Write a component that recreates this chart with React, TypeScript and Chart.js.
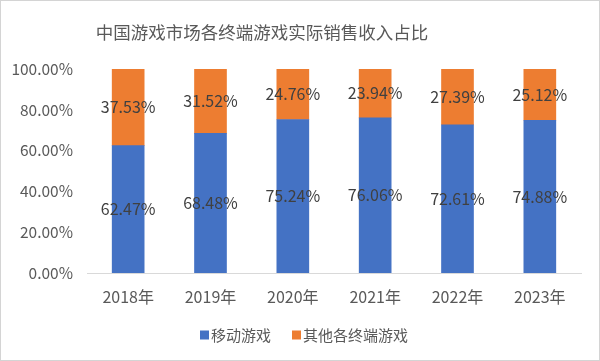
import React, { useEffect, useRef } from "react";
import { Chart, registerables } from "chart.js";

Chart.register(...registerables);

const categories = ["2018年", "2019年", "2020年", "2021年", "2022年", "2023年"];
const mobileValues = [62.47, 68.48, 75.24, 76.06, 72.61, 74.88];
const otherValues = [37.53, 31.52, 24.76, 23.94, 27.39, 25.12];
const seriesNames = ["移动游戏", "其他各终端游戏"];
const seriesColors = ["#4472C4", "#ED7D31"];
const titleText = "中国游戏市场各终端游戏实际销售收入占比";

const FONT = "'Noto Sans CJK SC', 'Noto Sans', sans-serif";
const TEXT = "#595959";

const frameAndLabels = {
  id: "frameAndLabels",
  beforeDraw(chart: any) {
    const { ctx, width, height } = chart;
    ctx.save();
    ctx.fillStyle = "#ffffff";
    ctx.fillRect(0, 0, width, height);
    ctx.strokeStyle = "#d4d4d4";
    ctx.lineWidth = 1;
    ctx.strokeRect(0.5, 0.5, width - 1, height - 1);
    ctx.restore();
  },
  afterDraw(chart: any) {
    const { ctx } = chart;
    ctx.save();
    // title
    ctx.font = `17.5px ${FONT}`;
    ctx.fillStyle = TEXT;
    ctx.textAlign = "center";
    ctx.textBaseline = "middle";
    ctx.fillText(titleText, 262, 32);
    // legend
    ctx.font = `15px ${FONT}`;
    ctx.textAlign = "left";
    let x = 200;
    const y = 335;
    seriesNames.forEach((name, i) => {
      ctx.fillStyle = seriesColors[i];
      ctx.fillRect(x, y - 4.5, 9, 9);
      x += 11;
      ctx.fillStyle = TEXT;
      ctx.fillText(name, x, y);
      x += ctx.measureText(name).width + 21;
    });
    ctx.restore();
  },
  afterDatasetsDraw(chart: any) {
    const { ctx } = chart;
    ctx.save();
    ctx.font = `16px ${FONT}`;
    ctx.fillStyle = "#404040";
    ctx.textAlign = "center";
    ctx.textBaseline = "middle";
    chart.data.datasets.forEach((ds: any, di: number) => {
      const meta = chart.getDatasetMeta(di);
      meta.data.forEach((el: any, i: number) => {
        const v = ds.data[i] as number;
        const y = (el.y + el.base) / 2;
        ctx.fillText(v.toFixed(2) + "%", el.x, y);
      });
    });
    ctx.restore();
  },
};

export default function App() {
  const ref = useRef<HTMLCanvasElement>(null);
  useEffect(() => {
    if (!ref.current) return;
    const chart = new Chart(ref.current, {
      type: "bar",
      data: {
        labels: categories,
        datasets: [
          { label: seriesNames[0], data: mobileValues, backgroundColor: seriesColors[0], barThickness: 32 },
          { label: seriesNames[1], data: otherValues, backgroundColor: seriesColors[1], barThickness: 32 },
        ],
      },
      options: {
        animation: false,
        responsive: false,
        maintainAspectRatio: false,
        layout: { padding: { left: 0, right: 19, top: 69, bottom: 43 } },
        plugins: {
          title: { display: false },
          legend: { display: false },
          tooltip: { enabled: false },
        },
        scales: {
          x: {
            stacked: true,
            grid: { display: false, drawTicks: false },
            border: { display: true, color: "#d9d9d9", width: 1 },
            ticks: { color: TEXT, font: { family: FONT, size: 16 }, padding: 14 },
            afterFit(scale: any) {
              scale.height = 45;
            },
          },
          y: {
            stacked: true,
            min: 0,
            max: 100,
            grid: { display: false, drawTicks: false },
            border: { display: false },
            ticks: {
              stepSize: 20,
              color: TEXT,
              font: { family: FONT, size: 15.5 },
              padding: 14,
              callback: (v: any) => Number(v).toFixed(2) + "%",
            },
            afterFit(scale: any) {
              scale.width = 87;
            },
          },
        },
      },
      plugins: [frameAndLabels],
    });
    return () => chart.destroy();
  }, []);
  return (
    <div style={{ position: "fixed", left: 0, top: 0, width: 600, height: 361 }}>
      <canvas ref={ref} width={600} height={361} style={{ width: 600, height: 361, display: "block" }} />
    </div>
  );
}
